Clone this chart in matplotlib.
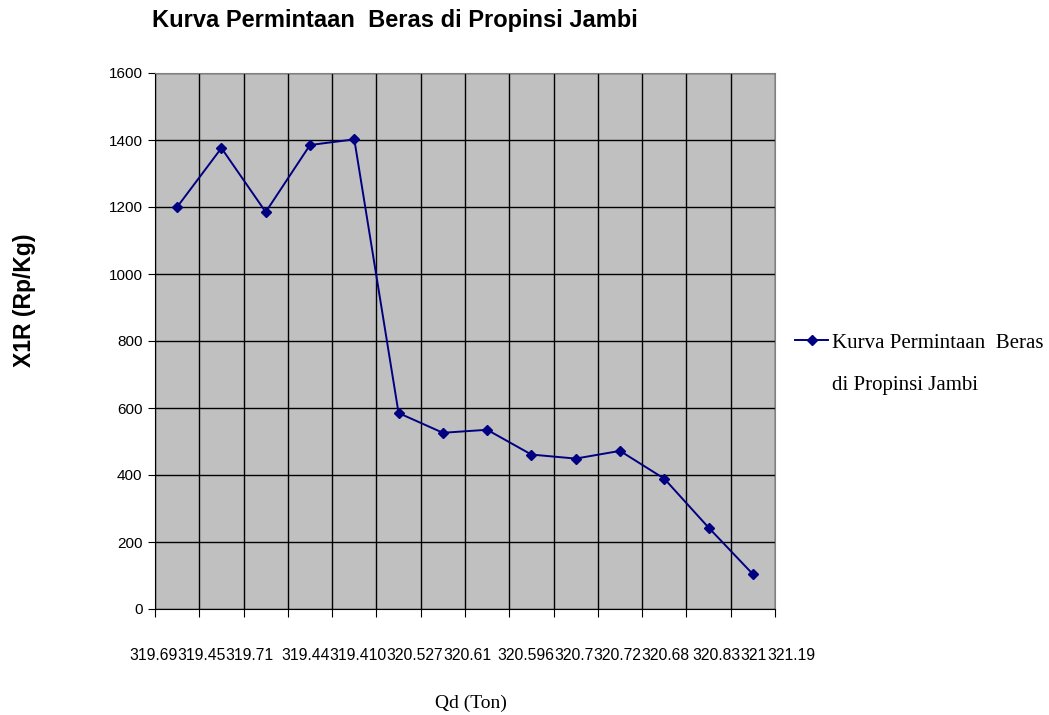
import numpy as np
import matplotlib.pyplot as plt
from matplotlib.lines import Line2D

# data
qd_labels = ["319.69", "319.45", "319.71", "319.44", "319.410", "320.527", "320.61",
             "320.596", "320.7", "320.72", "320.68", "320.83", "321", "321.19"]
harga = [1200, 1376, 1185, 1385, 1402, 585, 526, 535, 461, 449, 472, 389, 243, 104]

W, H = 1049, 715
fig = plt.figure(figsize=(W / 100, H / 100), dpi=100)
ax = fig.add_axes([155/W, 1-609/H, 620/W, 536/H])
ax.set_facecolor("#C0C0C0")

n = len(harga)
x = np.arange(n)
line, = ax.plot(x, harga, color="#000080", lw=1.4, marker="D", ms=5.5)

ax.set_xlim(-0.5, n - 0.5)
ax.set_ylim(0, 1600)
ax.set_yticks(np.arange(0, 1601, 200))
ax.tick_params(axis="y", labelsize=11, length=5, direction="out", pad=4)
for lab in ax.get_yticklabels():
    lab.set_family("Liberation Sans")

# category boundaries -> gridlines and tick marks
ax.set_xticks(np.arange(n + 1) - 0.5)
ax.set_xticklabels([])
ax.tick_params(axis="x", length=6, direction="out")

ax.grid(True, color="black", lw=1)
ax.set_axisbelow(True)
for s in ["top", "right"]:
    ax.spines[s].set_color("#808080")

# category labels: run together left to right like in the original
gaps = [0, 0, 0, 7, 0, 0, 0, 6, 0, 0, 0, 3, 0, 0]
lbls = [fig.text(0, 1-655/H, s, ha="left", va="center", fontsize=11.3,
                 family="Liberation Sans") for s in qd_labels]
r = fig.canvas.get_renderer()
px = 129
for t, g in zip(lbls, gaps):
    px += g
    t.set_x(px / W)
    px += t.get_window_extent(renderer=r).width

fig.text(395/W, 1-21/H, "Kurva Permintaan  Beras di Propinsi Jambi",
         ha="center", va="center", fontsize=17, fontweight="bold",
         family="Liberation Sans")
fig.text(25/W, 1-300/H, "X1R (Rp/Kg)", rotation=90, ha="center", va="center",
         fontsize=16.5, fontweight="bold", family="Liberation Sans")
fig.text(471/W, 1-703/H, "Qd (Ton)", ha="center", va="center",
         fontsize=14, family="Liberation Serif")

blank = Line2D([], [], color="none")
leg = fig.legend([line, blank], ["Kurva Permintaan  Beras", "di Propinsi Jambi"],
                 loc="upper left", bbox_to_anchor=(795/W, 1-333/H),
                 frameon=False, prop={"family": "Liberation Serif", "size": 15},
                 handlelength=1.6, handletextpad=0.2, borderaxespad=0,
                 borderpad=0, labelspacing=1.1)

fig.savefig("out.png", dpi=100)
